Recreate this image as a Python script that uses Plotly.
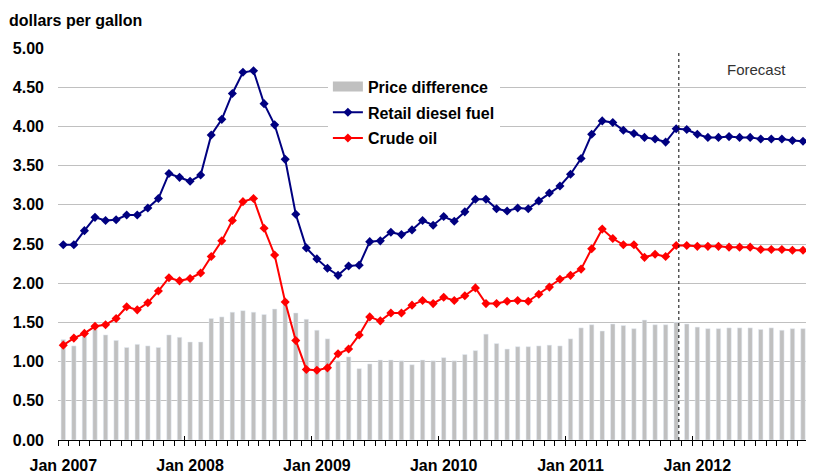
import plotly.graph_objects as go

# Monthly categories Jan 2007 .. Dec 2012
months = [f"{y}-{m:02d}" for y in range(2007, 2013) for m in range(1, 13)]

diesel = [
    2.49, 2.49, 2.67, 2.84, 2.80, 2.81, 2.87, 2.87, 2.96, 3.08, 3.40, 3.35,
    3.30, 3.38, 3.89, 4.09, 4.42, 4.69, 4.71, 4.29, 4.02, 3.58, 2.88, 2.45,
    2.31, 2.19, 2.10, 2.22, 2.23, 2.53, 2.54, 2.65, 2.62, 2.68, 2.80, 2.74,
    2.85, 2.79, 2.91, 3.07, 3.07, 2.95, 2.92, 2.96, 2.95, 3.05, 3.15, 3.24,
    3.39, 3.59, 3.90, 4.07, 4.05, 3.95, 3.91, 3.86, 3.84, 3.80, 3.97, 3.96,
    3.90, 3.86, 3.86, 3.87, 3.86, 3.86, 3.84, 3.84, 3.84, 3.82, 3.81, 3.84,
]

crude = [
    1.21, 1.30, 1.36, 1.45, 1.47, 1.55, 1.70, 1.66, 1.75, 1.90, 2.07, 2.03,
    2.06, 2.13, 2.34, 2.54, 2.80, 3.04, 3.08, 2.70, 2.36, 1.76, 1.27, 0.90,
    0.89, 0.92, 1.10, 1.16, 1.34, 1.57, 1.52, 1.62, 1.62, 1.72, 1.78, 1.74,
    1.82, 1.78, 1.84, 1.94, 1.74, 1.74, 1.77, 1.78, 1.77, 1.86, 1.95, 2.05,
    2.10, 2.18, 2.44, 2.69, 2.57, 2.49, 2.49, 2.33, 2.37, 2.34, 2.48, 2.48,
    2.47, 2.47, 2.47, 2.46, 2.46, 2.46, 2.43, 2.43, 2.43, 2.42, 2.42, 2.42,
]

price_diff = [
    1.28, 1.20, 1.32, 1.41, 1.34, 1.27, 1.18, 1.22, 1.20, 1.18, 1.34, 1.31,
    1.25, 1.25, 1.55, 1.57, 1.63, 1.65, 1.63, 1.60, 1.67, 1.80, 1.62, 1.54,
    1.40, 1.29, 1.01, 1.06, 0.91, 0.97, 1.02, 1.02, 1.01, 0.96, 1.02, 1.01,
    1.05, 1.01, 1.09, 1.14, 1.35, 1.23, 1.16, 1.19, 1.19, 1.20, 1.21, 1.20,
    1.29, 1.43, 1.47, 1.39, 1.48, 1.46, 1.42, 1.53, 1.47, 1.47, 1.50, 1.48,
    1.44, 1.42, 1.42, 1.43, 1.43, 1.43, 1.41, 1.43, 1.40, 1.42, 1.42, 1.43,
]

tick_labels = ["Jan 2007", "Jan 2008", "Jan 2009", "Jan 2010", "Jan 2011", "Jan 2012"]
tick_months = ["2007-01", "2008-01", "2009-01", "2010-01", "2011-01", "2012-01"]
forecast_start = "2011-11"

x = list(range(len(months)))
tick_pos = [months.index(m) for m in tick_months]
year_bounds = [p - 0.5 for p in tick_pos]
fc = months.index(forecast_start) + 0.25

FONT = "Liberation Sans, Arial, sans-serif"
xr = [-0.5, len(months) - 0.96]

# page body has an 8px margin: figure is sized to fill the rest of the window
W, H = 806, 466

fig = go.Figure()
fig.add_trace(go.Bar(x=x, y=price_diff, marker_color="#c0c0c0", width=0.42,
                     showlegend=False, name="Price difference", legendgroup="g0"))
fig.add_trace(go.Scatter(x=[None], y=[None], mode="lines", name="Price difference",
                         legendgroup="g1", line=dict(color="#c0c0c0", width=10)))
fig.add_trace(go.Scatter(x=x, y=diesel, mode="lines+markers", name="Retail diesel fuel",
                         legendgroup="g2", line=dict(color="#000080", width=2),
                         marker=dict(symbol="diamond", size=7, color="#000080")))
fig.add_trace(go.Scatter(x=x, y=crude, mode="lines+markers", name="Crude oil",
                         legendgroup="g3", line=dict(color="#ff0000", width=2),
                         marker=dict(symbol="diamond", size=7, color="#ff0000")))
fig.add_trace(go.Scatter(x=[None], y=[None], xaxis="x2", showlegend=False, hoverinfo="skip"))

fig.update_layout(
    width=W, height=H,
    margin=dict(l=50, r=0, t=40, b=34),
    paper_bgcolor="white", plot_bgcolor="white",
    font=dict(family=FONT, color="black"),
    title=dict(text="dollars per gallon", x=1 / W, xanchor="left", xref="container",
               y=1 - 12 / H, yanchor="middle",
               font=dict(size=16, weight="bold", family=FONT, color="black")),
    bargap=0.58,
    xaxis=dict(range=xr, tickmode="array", tickvals=tick_pos, ticktext=tick_labels,
               ticks="", showline=True, linecolor="black", linewidth=1,
               showgrid=False, zeroline=False, ticklabelstandoff=11,
               tickfont=dict(size=16, weight="bold", family=FONT, color="black"),
               minor=dict(tick0=-0.5, dtick=1, ticks="outside", ticklen=5,
                          tickcolor="black", showgrid=False)),
    xaxis2=dict(range=xr, overlaying="x", anchor="y", side="bottom",
                tickmode="array", tickvals=year_bounds, ticks="inside", ticklen=4,
                tickcolor="black", showticklabels=False, showgrid=False,
                showline=False, zeroline=False),
    yaxis=dict(range=[0, 5], tick0=0, dtick=0.5, tickformat=".2f",
               showgrid=True, gridcolor="#c0c0c0", gridwidth=1,
               showline=False, zeroline=False, ticks="", ticklabelstandoff=13,
               tickfont=dict(size=16, weight="bold", family=FONT, color="black")),
    legend=dict(x=0.357, y=0.945, xanchor="left", yanchor="top", bgcolor="white",
                font=dict(size=16, weight="bold", family=FONT, color="black"),
                borderwidth=0, traceorder="grouped", tracegroupgap=2),
    annotations=[dict(text="Forecast", x=65.6, xref="x", y=(440 - 69) / 392, yref="paper",
                      xanchor="center", yanchor="middle", showarrow=False,
                      font=dict(size=15, family=FONT, color="#333333"))],
    shapes=[dict(type="line", xref="x", x0=fc, x1=fc, yref="paper", y0=0, y1=0.99,
                 line=dict(color="black", width=1, dash="dot"))],
)

fig.write_html("out.html")
